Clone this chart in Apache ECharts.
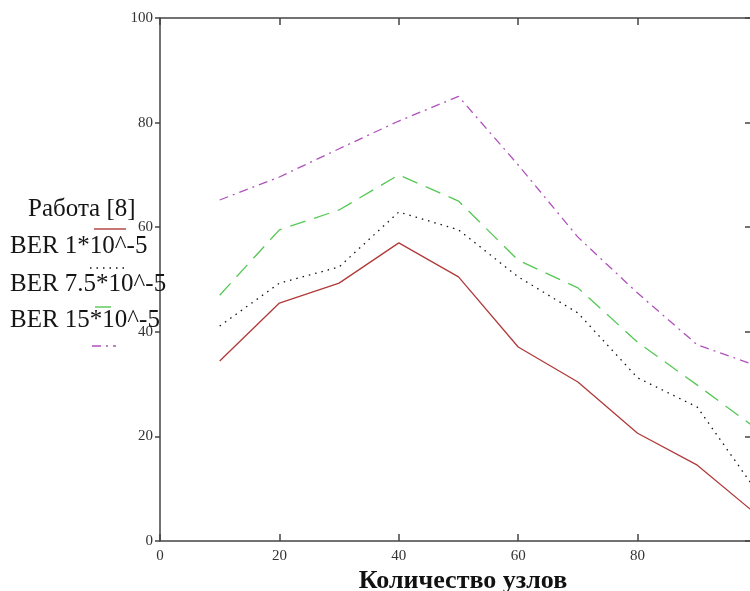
<!DOCTYPE html>
<html>
<head>
<meta charset="utf-8">
<script src="https://cdn.jsdelivr.net/npm/echarts@6/dist/echarts.min.js"></script>
<style>html,body{margin:0;padding:0;background:#fff;overflow:hidden;}#c{width:750px;height:591px;}</style>
</head>
<body>
<div id="c"></div>
<script>
var xValues = [10, 20, 30, 40, 50, 60, 70, 80, 90, 100];
var seriesNames = ['Работа [8]', 'BER 1*10^-5', 'BER 7.5*10^-5', 'BER 15*10^-5'];
var work8 = [34.4, 45.5, 49.3, 57.0, 50.5, 37.1, 30.4, 20.6, 14.5, 5.0];
var ber1 = [41.1, 49.3, 52.4, 62.9, 59.5, 50.5, 43.6, 31.2, 25.6, 9.4];
var ber75 = [47.0, 59.5, 63.3, 70.0, 65.0, 53.7, 48.4, 38.0, 29.8, 21.4];
var ber15 = [65.2, 69.6, 75.0, 80.3, 85.0, 71.9, 58.1, 47.4, 37.5, 33.5];
var xTitle = 'Количество узлов';

var FONT = '"Liberation Serif","DejaVu Serif",serif';
var colors = ['#b03a3a', '#111111', '#55c855', '#b052bc'];
var dashes = ['solid', [1.5, 5], [16, 9], [9, 5, 2, 5]];
var allData = [work8, ber1, ber75, ber15];

function pairs(arr) { return xValues.map(function (x, i) { return [x, arr[i]]; }); }

var series = allData.map(function (d, i) {
  return {
    name: seriesNames[i], type: 'line', data: pairs(d), symbol: 'none',
    xAxisIndex: 0, yAxisIndex: 0,
    lineStyle: { color: colors[i], width: 1.3, type: dashes[i] },
    itemStyle: { color: colors[i] }, z: 3
  };
});

var axisLine = { show: true, onZero: false, lineStyle: { color: '#444', width: 1.5 } };
var tickStyle = { color: '#444', width: 1.5 };

// legend (decorative text + line samples)
var legendTextY = [211, 248, 286, 322];
var legendTextX = [28, 10, 10, 10];
var legendLine = [[94, 126, 229], [90, 125, 268], [95, 118, 307], [92, 116, 346]];
var graphics = [];
seriesNames.forEach(function (n, i) {
  graphics.push({ type: 'text', left: legendTextX[i], top: legendTextY[i] - 14,
    style: { text: n, font: '25px ' + FONT, fill: '#151515' }, z: 10 });
  graphics.push({ type: 'line', shape: { x1: legendLine[i][0], y1: legendLine[i][2], x2: legendLine[i][1], y2: legendLine[i][2] },
    style: { stroke: colors[i], lineWidth: 1.4, lineDash: dashes[i] === 'solid' ? null : dashes[i] }, z: 10 });
});

var chart = echarts.init(document.getElementById('c'), null, { renderer: 'canvas', width: 750, height: 591 });
chart.setOption({
  backgroundColor: '#ffffff',
  animation: false,
  grid: { left: 160, top: 18, width: 597, height: 523, containLabel: false, outerBoundsMode: 'none' },
  xAxis: [{
    type: 'value', min: 0, max: 100, interval: 20, position: 'bottom',
    axisLine: axisLine,
    axisTick: { show: true, inside: true, length: 7, lineStyle: tickStyle },
    axisLabel: { show: true, color: '#333', fontFamily: FONT, fontSize: 15, margin: 8,
      formatter: function (v) { return v === 100 ? '' : v; } },
    splitLine: { show: false },
    name: xTitle, nameLocation: 'middle', nameGap: 27, nameMoveOverlap: false,
    nameTextStyle: { fontFamily: FONT, fontSize: 26, fontWeight: 'bold', color: '#111', padding: [0, 0, 0, 9] }
  }, {
    type: 'value', min: 0, max: 100, interval: 20, position: 'top',
    axisLine: axisLine,
    axisTick: { show: true, inside: true, length: 7, lineStyle: tickStyle },
    axisLabel: { show: false }, splitLine: { show: false }
  }],
  yAxis: [{
    type: 'value', min: 0, max: 100, interval: 20, position: 'left',
    axisLine: axisLine,
    axisTick: { show: true, inside: false, length: 5, lineStyle: tickStyle },
    axisLabel: { show: true, color: '#333', fontFamily: FONT, fontSize: 15, margin: 7 },
    splitLine: { show: false }
  }, {
    type: 'value', min: 0, max: 100, interval: 20, position: 'right',
    axisLine: axisLine,
    axisTick: { show: true, inside: true, length: 12, lineStyle: tickStyle },
    axisLabel: { show: false }, splitLine: { show: false }
  }],
  series: series,
  graphic: graphics
});
</script>
</body>
</html>
